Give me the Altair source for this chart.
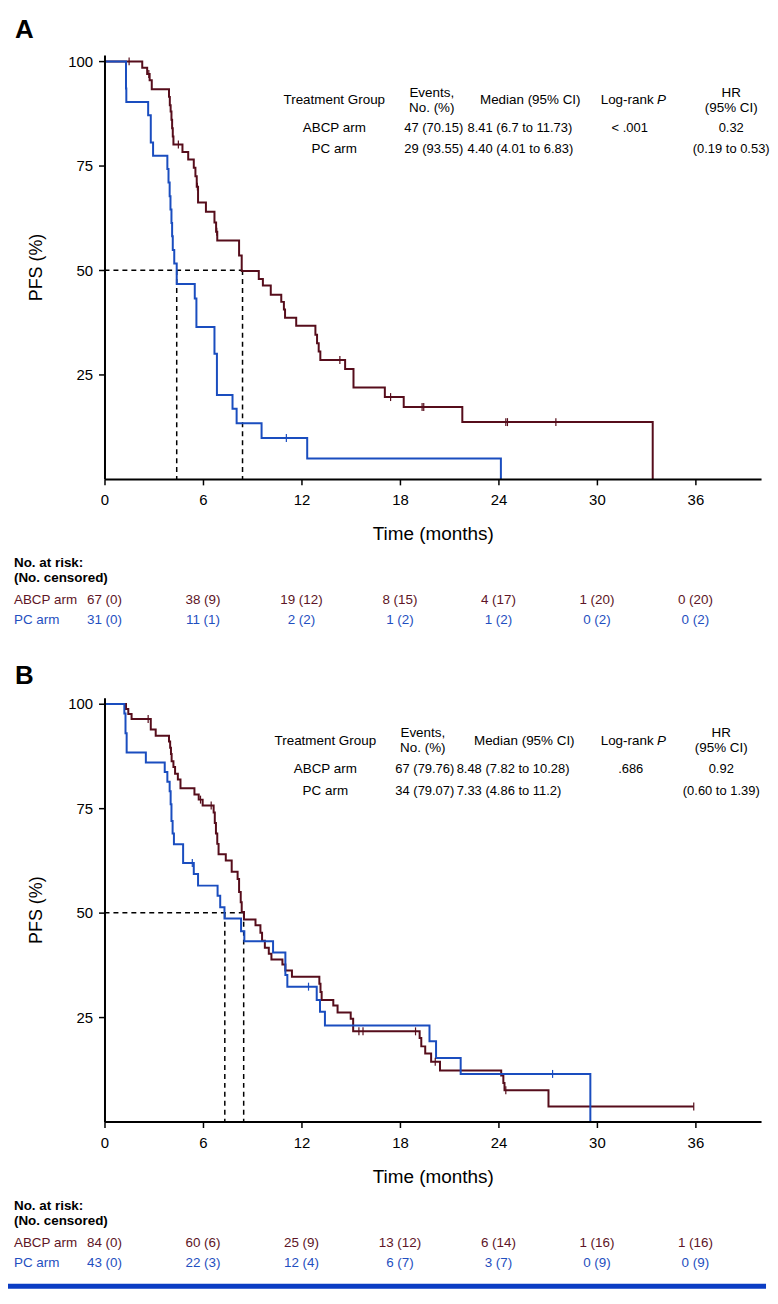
import altair as alt
import pandas as pd

FONT = "Liberation Sans"
MAROON = "#560d1b"
BLUE = "#1a4dbf"
TEXT_MAROON = "#5e1526"
TEXT_BLUE = "#1f4fc0"
FRAME_BLUE = "#0b3dc4"

X_TICKS = [0, 6, 12, 18, 24, 30, 36]
Y_TICKS = [25, 50, 75, 100]
RISK_TIMES = [0, 6, 12, 18, 24, 30, 36]

# ---------------- Panel A (time, PFS %) step points ----------------
A_ABCP = [(0, 100), (2.30, 98.5), (2.60, 97.0), (2.75, 95.5), (2.88, 93.3), (3.93, 91.5),
          (3.98, 89.5), (4.03, 88.0), (4.08, 86.0), (4.12, 84.0), (4.16, 82.0), (4.20, 80.1),
          (4.75, 78.3), (5.10, 76.5), (5.44, 74.5), (5.54, 72.5), (5.62, 70.0), (5.70, 66.2),
          (6.18, 64.0), (6.70, 61.4), (6.80, 59.2), (6.87, 57.1), (8.20, 53.5), (8.36, 49.8),
          (9.40, 47.9), (9.65, 46.3), (10.13, 44.1), (10.77, 42.4), (10.93, 40.6), (11.00, 38.6),
          (11.68, 36.7), (12.85, 34.5), (12.95, 32.5), (13.05, 30.5), (13.15, 28.5), (14.66, 26.3),
          (15.17, 21.9), (17.08, 19.6), (18.23, 17.2), (21.80, 13.6), (33.40, 0)]
A_PC = [(0, 100), (1.31, 93.5), (1.33, 90.3), (2.66, 87.1), (2.82, 80.6), (2.96, 77.4),
        (3.83, 74.2), (3.90, 71.0), (3.97, 67.7), (4.02, 64.5), (4.08, 61.3), (4.12, 58.1),
        (4.16, 54.8), (4.25, 51.6), (4.40, 46.7), (5.50, 43.2), (5.60, 36.4), (6.70, 30.0),
        (6.85, 20.1), (7.80, 16.8), (8.05, 13.3), (9.57, 9.8), (12.35, 4.9), (24.15, 0)]
A_ABCP_CENS = [(1.5, 100), (2.7, 97.0), (4.5, 80.1), (5.66, 70.0), (6.84, 59.2), (14.34, 28.5),
               (17.43, 19.6), (19.35, 17.2), (19.45, 17.2), (24.45, 13.6), (24.55, 13.6), (27.5, 13.6)]
A_PC_CENS = [(11.08, 9.8)]
A_MEDIANS = [8.41, 4.40]
A_RISK_ABCP = ["67 (0)", "38 (9)", "19 (12)", "8 (15)", "4 (17)", "1 (20)", "0 (20)"]
A_RISK_PC = ["31 (0)", "11 (1)", "2 (2)", "1 (2)", "1 (2)", "0 (2)", "0 (2)"]
A_ROW_ABCP = ["ABCP arm", "47 (70.15)", "8.41 (6.7 to 11.73)", "< .001", "0.32"]
A_ROW_PC = ["PC arm", "29 (93.55)", "4.40 (4.01 to 6.83)", "", "(0.19 to 0.53)"]

# ---------------- Panel B ----------------
B_ABCP = [(0, 100), (1.31, 98.8), (1.45, 97.6), (1.65, 96.4), (2.82, 93.9), (3.12, 92.4),
          (3.93, 91.0), (4.00, 89.5), (4.05, 88.0), (4.09, 86.3), (4.20, 84.9), (4.30, 83.3),
          (4.47, 81.9), (4.63, 79.8), (5.48, 78.3), (5.74, 77.1), (5.98, 75.7), (6.65, 74.0),
          (6.72, 71.5), (6.79, 69.0), (6.87, 66.5), (6.95, 64.0), (7.39, 62.5), (7.75, 59.8),
          (8.11, 58.1), (8.20, 55.0), (8.30, 52.5), (8.36, 50.2), (8.50, 48.4), (9.20, 47.0),
          (9.50, 45.2), (9.60, 43.3), (9.77, 41.6), (10.01, 40.2), (10.17, 38.8), (10.84, 37.6),
          (11.02, 36.2), (11.42, 34.7), (13.09, 33.0), (13.16, 31.0), (13.23, 29.1), (13.94, 27.8),
          (14.20, 26.1), (15.00, 24.6), (15.15, 21.6), (19.20, 20.0), (19.30, 18.0), (19.54, 16.3),
          (19.90, 14.3), (20.44, 12.2), (24.17, 11.0), (24.30, 9.2), (24.37, 7.5), (27.05, 3.6),
          (35.90, 3.6)]
B_PC = [(0, 100), (1.21, 97.7), (1.28, 93.0), (1.35, 88.4), (2.52, 86.0), (3.67, 83.7),
        (3.83, 81.4), (3.97, 79.1), (4.03, 76.0), (4.08, 72.0), (4.15, 69.0), (4.23, 66.4),
        (4.79, 61.9), (5.44, 59.3), (5.70, 56.5), (6.89, 54.1), (7.05, 51.3), (7.31, 48.6),
        (8.32, 45.6), (8.52, 43.2), (10.27, 40.5), (11.02, 35.1), (11.14, 32.3), (12.93, 29.1),
        (13.13, 26.3), (13.43, 23.0), (19.80, 19.2), (20.20, 15.2), (21.70, 11.4), (29.60, 0)]
B_ABCP_CENS = [(2.66, 96.4), (5.85, 77.1), (6.5, 75.7), (15.5, 21.6), (15.75, 21.6), (18.95, 21.6),
               (20.15, 14.3), (24.45, 7.5), (35.9, 3.6)]
B_PC_CENS = [(5.35, 61.9), (12.43, 32.3), (27.3, 11.4)]
B_MEDIANS = [8.48, 7.33]
B_RISK_ABCP = ["84 (0)", "60 (6)", "25 (9)", "13 (12)", "6 (14)", "1 (16)", "1 (16)"]
B_RISK_PC = ["43 (0)", "22 (3)", "12 (4)", "6 (7)", "3 (7)", "0 (9)", "0 (9)"]
B_ROW_ABCP = ["ABCP arm", "67 (79.76)", "8.48 (7.82 to 10.28)", ".686", "0.92"]
B_ROW_PC = ["PC arm", "34 (79.07)", "7.33 (4.86 to 11.2)", "", "(0.60 to 1.39)"]

HEADERS = ["Treatment Group", "Events,", "No. (%)", "Median (95% CI)", "Log-rank", "P", "HR", "(95% CI)"]
RISK_HEAD = ["No. at risk:", "(No. censored)"]
ARMS = ["ABCP arm", "PC arm"]

W, H = 660, 426
TS = 13.5  # table font size (words)
NS = 13    # table font size (numbers)
XS = alt.Scale(domain=[0, 40], nice=False, zero=False)
YS = alt.Scale(domain=[0, 101.5], nice=False, zero=True)
X_AXIS = alt.Axis(values=X_TICKS, labelFlush=False, labelOverlap=False, grid=False, zindex=1,
                  tickSize=6, tickWidth=1.5, domainWidth=2, labelPadding=8,
                  labelFontSize=15, titleFontSize=19, titlePadding=17, titleFontWeight="normal")
Y_AXIS = alt.Axis(values=Y_TICKS, labelFlush=False, labelOverlap=False, grid=False, zindex=1,
                  tickSize=6, tickWidth=1.5, domainWidth=2, labelPadding=6,
                  labelFontSize=15, titleFontSize=18, titlePadding=22, titleFontWeight="normal")


def xenc(field):
    return alt.X(f"{field}:Q", scale=XS, axis=X_AXIS, title="Time (months)")


def yenc(field):
    return alt.Y(f"{field}:Q", scale=YS, axis=Y_AXIS, title="PFS (%)")


def txt(s, px, py, align="center", size=TS, color="black", weight="normal", style="normal"):
    return alt.Chart(pd.DataFrame({"label": [s]})).mark_text(
        align=align, baseline="middle", fontSize=size, font=FONT, color=color,
        fontWeight=weight, fontStyle=style
    ).encode(text="label:N", x=alt.value(px), y=alt.value(py))


def prect(x1, x2, y1, y2, color):
    return alt.Chart(pd.DataFrame({"k": [0]})).mark_rect(color=color, opacity=1).encode(
        x=alt.value(x1), x2=alt.value(x2), y=alt.value(y1), y2=alt.value(y2))


def curve(points, color):
    df = pd.DataFrame(points, columns=["t", "s"])
    df["i"] = range(len(df))
    return alt.Chart(df).mark_line(interpolate="step-after", strokeWidth=2, color=color).encode(
        x=xenc("t"), y=yenc("s"), order="i:Q")


def censors(points, color):
    df = pd.DataFrame(points, columns=["t", "s"])
    return alt.Chart(df).mark_point(shape="M0,-1L0,1", size=64, strokeWidth=1.2, filled=False,
                                    color=color, opacity=1).encode(x=xenc("t"), y=yenc("s"))


def panel(letter, letter_y, abcp, pc, c_abcp, c_pc, medians, risk_abcp, risk_pc,
          row_abcp, row_pc, cols, hy, bg_top, bg_bottom, bar):
    layers = [prect(-97, 665, bg_top, bg_bottom, "white")]
    if bar:
        layers.append(prect(-97, 665, bar, bg_bottom, FRAME_BLUE))
    mh = max(medians)
    rules = pd.DataFrame({"x1": [0] + medians, "x2": [mh] + medians,
                          "y1": [50, 50, 50], "y2": [50, 0, 0]})
    layers.append(alt.Chart(rules).mark_rule(strokeDash=[5, 4], color="black", strokeWidth=1.5).encode(
        x=xenc("x1"), x2="x2:Q", y=yenc("y1"), y2="y2:Q"))
    layers += [curve(abcp, MAROON), curve(pc, BLUE), censors(c_abcp, MAROON), censors(c_pc, BLUE)]

    # stats table
    g, ev, med_left, med_head, lr, hr = cols
    h_mid, h1, h2, r1, r2 = hy
    layers += [
        txt(HEADERS[0], g, h_mid),
        txt(HEADERS[1], ev, h1), txt(HEADERS[2], ev, h2),
        txt(HEADERS[3], med_head, h_mid),
        txt(HEADERS[4], 552, h_mid, align="right"), txt(HEADERS[5], 555.5, h_mid, align="left", style="italic"),
        txt(HEADERS[6], hr, h1), txt(HEADERS[7], hr, h2),
    ]
    for row, yy in ((row_abcp, r1), (row_pc, r2)):
        layers += [txt(row[0], g, yy), txt(row[1], ev + 2, yy, size=NS),
                   txt(row[2], med_left, yy, align="left", size=NS),
                   txt(row[3], lr, yy, size=NS), txt(row[4], hr, yy, size=NS)]

    # risk table
    layers += [txt(RISK_HEAD[0], -91, 511, align="left", weight="bold"),
               txt(RISK_HEAD[1], -91, 526, align="left", weight="bold"),
               txt(ARMS[0], -91, 548, align="left", color=TEXT_MAROON),
               txt(ARMS[1], -91, 568, align="left", color=TEXT_BLUE)]
    for labels, yy, colr in ((risk_abcp, 548, TEXT_MAROON), (risk_pc, 568, TEXT_BLUE)):
        rdf = pd.DataFrame({"t": RISK_TIMES, "label": labels})
        layers.append(alt.Chart(rdf).mark_text(fontSize=TS, font=FONT, color=colr, baseline="middle").encode(
            x=xenc("t"), y=alt.value(yy), text="label:N"))

    layers.append(txt(letter, -90, letter_y, align="left", size=26, weight="bold"))
    return alt.layer(*layers).properties(width=W, height=H)


panel_a = panel("A", -25, A_ABCP, A_PC, A_ABCP_CENS, A_PC_CENS, A_MEDIANS, A_RISK_ABCP, A_RISK_PC,
                A_ROW_ABCP, A_ROW_PC, (231, 329, 365, 428, 528, 630), (45, 38, 53.5, 73, 94.7),
                -44, 620, None)
panel_b = panel("B", -22, B_ABCP, B_PC, B_ABCP_CENS, B_PC_CENS, B_MEDIANS, B_RISK_ABCP, B_RISK_PC,
                B_ROW_ABCP, B_ROW_PC, (222, 320, 354, 422, 529, 620), (44, 35.5, 51, 72, 93.7),
                -30, 594, 589)

chart = alt.vconcat(panel_a, panel_b, spacing=220, bounds="flush").properties(
    padding=0
).configure_view(stroke=None).configure_axis(
    labelFont=FONT, titleFont=FONT, labelColor="black", titleColor="black",
    domainColor="black", tickColor="black"
)

chart.save("out.html", embed_options={"renderer": "svg", "actions": False})
